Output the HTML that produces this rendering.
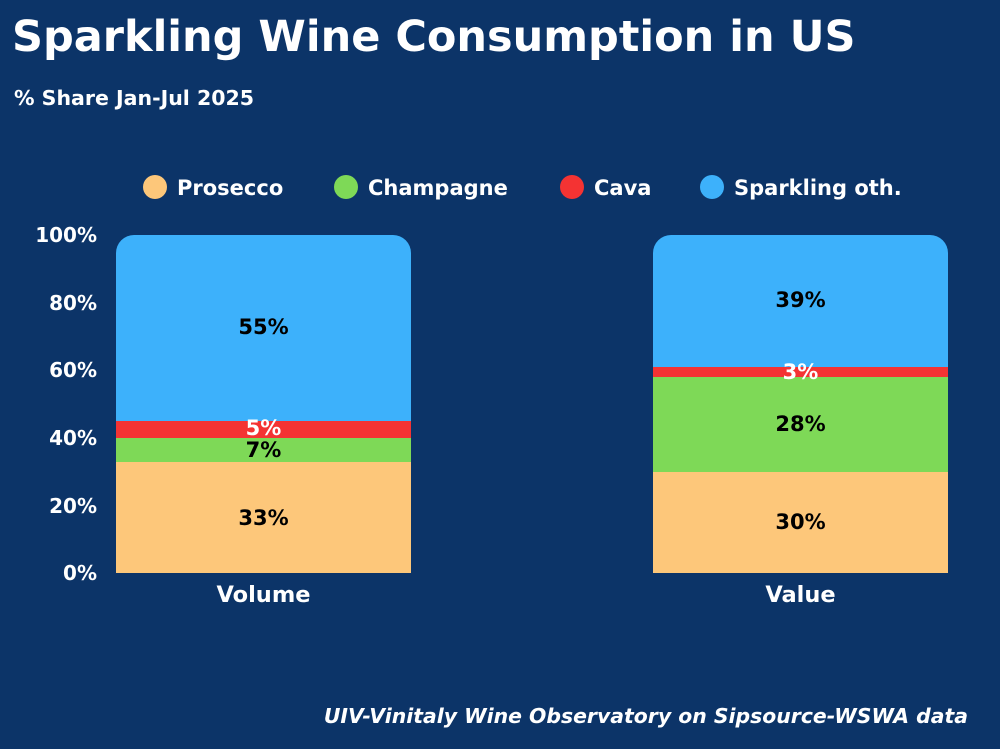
<!DOCTYPE html>
<html><head><style>
body{margin:0;width:1000px;height:749px;background:#0c3468;font-family:"DejaVu Sans",sans-serif;position:relative;overflow:hidden;color:#fff;font-weight:bold}
.a{position:absolute}
.t{left:12px;top:12px;font-size:43px;white-space:nowrap}
.st{left:14px;top:86px;font-size:20.5px}
.lg{top:175px;font-size:21px;white-space:nowrap}
.dot{display:inline-block;width:24px;height:24px;border-radius:50%;vertical-align:-4px;margin-right:10px}
.yl{left:0;width:97px;text-align:right;font-size:20px}
.seg{position:absolute;left:0;width:295px}
.lab{position:absolute;left:0;width:295px;text-align:center;font-size:21px;color:#000}
</style></head><body>
<div class="a t">Sparkling Wine Consumption in US</div>
<div class="a st">% Share Jan-Jul 2025</div>
<div class="a lg" style="left:143px"><span class="dot" style="background:#fdc77a"></span>Prosecco</div>
<div class="a lg" style="left:334px"><span class="dot" style="background:#7ed957"></span>Champagne</div>
<div class="a lg" style="left:560px"><span class="dot" style="background:#f43333"></span>Cava</div>
<div class="a lg" style="left:700px"><span class="dot" style="background:#3db1fb"></span>Sparkling oth.</div>
<div class="a yl" style="top:223px">100%</div>
<div class="a yl" style="top:291px">80%</div>
<div class="a yl" style="top:358px">60%</div>
<div class="a yl" style="top:426px">40%</div>
<div class="a yl" style="top:494px">20%</div>
<div class="a yl" style="top:561px">0%</div>

<div class="a" style="left:116px;top:235px;width:295px;height:338px;border-radius:18px 18px 0 0;overflow:hidden">
<div class="seg" style="top:0;height:186px;background:#3db1fb"></div>
<div class="seg" style="top:186px;height:17px;background:#f43333"></div>
<div class="seg" style="top:203px;height:24px;background:#7ed957"></div>
<div class="seg" style="top:227px;height:111px;background:#fdc77a"></div>
<div class="lab" style="top:80px">55%</div>
<div class="lab" style="top:181px;color:#fff">5%</div>
<div class="lab" style="top:203px">7%</div>
<div class="lab" style="top:271px">33%</div>
</div>
<div class="a" style="left:653px;top:235px;width:295px;height:338px;border-radius:18px 18px 0 0;overflow:hidden">
<div class="seg" style="top:0;height:132px;background:#3db1fb"></div>
<div class="seg" style="top:132px;height:10px;background:#f43333"></div>
<div class="seg" style="top:142px;height:95px;background:#7ed957"></div>
<div class="seg" style="top:237px;height:101px;background:#fdc77a"></div>
<div class="lab" style="top:53px">39%</div>
<div class="lab" style="top:125px;color:#fff">3%</div>
<div class="lab" style="top:177px">28%</div>
<div class="lab" style="top:275px">30%</div>
</div>
<div class="a" style="left:116px;width:295px;text-align:center;top:582px;font-size:22.5px">Volume</div>
<div class="a" style="left:653px;width:295px;text-align:center;top:582px;font-size:22.5px">Value</div>
<div class="a" style="right:32px;top:704px;font-size:20.4px;font-style:italic;white-space:nowrap">UIV-Vinitaly Wine Observatory on Sipsource-WSWA data</div>
</body></html>
